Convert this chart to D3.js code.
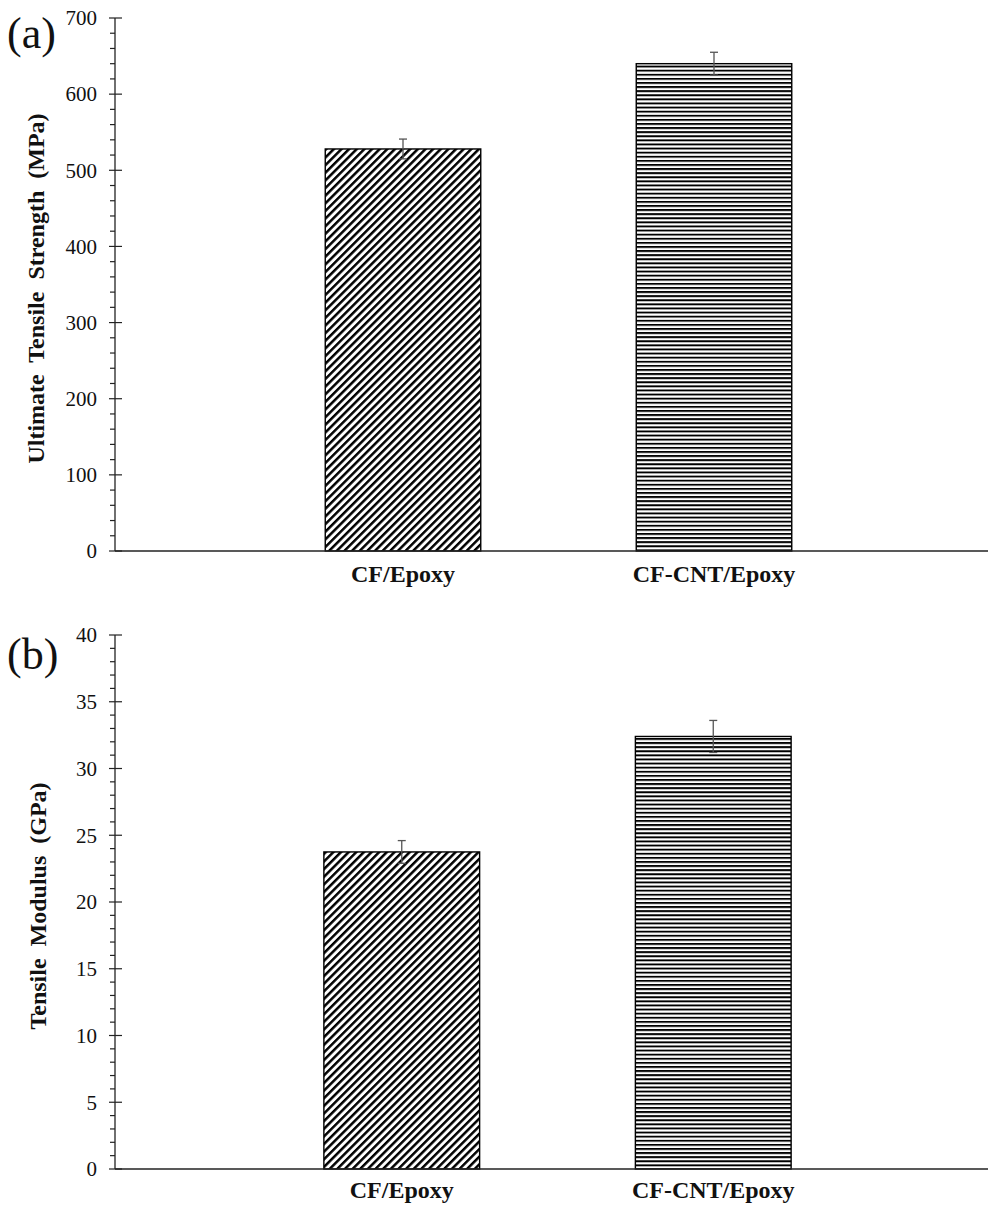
<!DOCTYPE html>
<html>
<head>
<meta charset="utf-8">
<script src="https://cdn.jsdelivr.net/npm/d3@7/dist/d3.min.js"></script>
<style>
  html, body { margin: 0; padding: 0; background: #fff; }
  svg { display: block; }
  text { font-family: "Liberation Serif", "Times New Roman", Times, serif; }
</style>
</head>
<body>
<svg id="chart" width="988" height="1206"></svg>
<script>
// ---- Data ----
const categories = ["CF/Epoxy", "CF-CNT/Epoxy"];
const strengthValues = [528, 640];       // MPa
const strengthErrors = [13, 15];
const modulusValues = [23.75, 32.4];     // GPa
const modulusErrors = [0.85, 1.2];
const strengthTicks = [0, 100, 200, 300, 400, 500, 600, 700];
const modulusTicks = [0, 5, 10, 15, 20, 25, 30, 35, 40];
const patterns = ["diag", "horiz"];

const svg = d3.select("#chart");
const defs = svg.append("defs");

// diagonal hatch "/"
const pd = defs.append("pattern")
  .attr("id", "diag")
  .attr("patternUnits", "userSpaceOnUse")
  .attr("width", 5.4).attr("height", 5.4)
  .attr("patternTransform", "rotate(45)");
pd.append("rect").attr("width", 5.4).attr("height", 5.4).attr("fill", "#fff");
pd.append("rect").attr("width", 2.5).attr("height", 5.4).attr("fill", "#000");

// horizontal hatch
const ph = defs.append("pattern")
  .attr("id", "horiz")
  .attr("patternUnits", "userSpaceOnUse")
  .attr("width", 8).attr("height", 4.1);
ph.append("rect").attr("width", 8).attr("height", 4.1).attr("fill", "#fff");
ph.append("rect").attr("width", 8).attr("height", 1.9).attr("fill", "#000");

function panel(cfg) {
  const g = svg.append("g");
  const y = d3.scaleLinear().domain(cfg.domain).range([cfg.bottom, cfg.top]);
  const x = d3.scaleBand().domain(categories).range(cfg.xRange)
    .paddingInner(0.5).paddingOuter(0.25);

  // bars
  g.selectAll("rect.bar").data(cfg.values).enter().append("rect")
    .attr("class", "bar")
    .attr("x", (d, i) => x(categories[i]))
    .attr("width", x.bandwidth())
    .attr("y", d => y(d))
    .attr("height", d => y(0) - y(d))
    .attr("fill", (d, i) => `url(#${patterns[i]})`)
    .attr("stroke", "#000")
    .attr("stroke-width", 1.4);

  // error bars
  const eb = g.selectAll("g.err").data(cfg.values).enter().append("g")
    .attr("stroke", "#555").attr("stroke-width", 1.3).attr("fill", "none");
  eb.append("line")
    .attr("x1", (d, i) => x(categories[i]) + x.bandwidth() / 2)
    .attr("x2", (d, i) => x(categories[i]) + x.bandwidth() / 2)
    .attr("y1", (d, i) => y(d + cfg.errors[i]))
    .attr("y2", (d, i) => y(d - cfg.errors[i]));
  [1, -1].forEach(s => {
    eb.append("line")
      .attr("x1", (d, i) => x(categories[i]) + x.bandwidth() / 2 - 4)
      .attr("x2", (d, i) => x(categories[i]) + x.bandwidth() / 2 + 4)
      .attr("y1", (d, i) => y(d + s * cfg.errors[i]))
      .attr("y2", (d, i) => y(d + s * cfg.errors[i]));
  });

  // y axis
  const ax = g.append("g").attr("transform", `translate(${cfg.axisX},0)`);
  const minor = [];
  for (let k = 0; k < cfg.ticks.length - 1; k++) {
    const a = cfg.ticks[k], b = cfg.ticks[k + 1];
    for (let m = 1; m < 5; m++) minor.push(a + (b - a) * m / 5);
  }
  ax.selectAll("line.minor").data(minor).enter().append("line")
    .attr("x1", -5).attr("x2", 0)
    .attr("y1", d => y(d)).attr("y2", d => y(d))
    .attr("stroke", "#222").attr("stroke-width", 1.2);
  ax.selectAll("line.major").data(cfg.ticks).enter().append("line")
    .attr("x1", -6).attr("x2", 7)
    .attr("y1", d => y(d)).attr("y2", d => y(d))
    .attr("stroke", "#222").attr("stroke-width", 1.2);
  ax.append("line")
    .attr("x1", 0).attr("x2", 0)
    .attr("y1", y(cfg.domain[1])).attr("y2", y(0))
    .attr("stroke", "#222").attr("stroke-width", 1.3);
  ax.selectAll("text.tick").data(cfg.ticks).enter().append("text")
    .attr("x", -18).attr("y", d => y(d))
    .attr("dy", "0.35em")
    .attr("text-anchor", "end")
    .attr("font-size", 21)
    .attr("fill", "#111")
    .text(d => d);

  // x axis line
  g.append("line")
    .attr("x1", cfg.axisX).attr("x2", 988)
    .attr("y1", y(0)).attr("y2", y(0))
    .attr("stroke", "#222").attr("stroke-width", 1.3);

  // category labels
  g.selectAll("text.cat").data(categories).enter().append("text")
    .attr("x", d => x(d) + x.bandwidth() / 2)
    .attr("y", y(0) + cfg.catOffset)
    .attr("text-anchor", "middle")
    .attr("font-size", 24)
    .attr("font-weight", "bold")
    .attr("fill", "#111")
    .text(d => d);

  // y title
  g.append("text")
    .attr("transform", `translate(${cfg.titleX},${(y(0) + y(cfg.domain[1])) / 2 + 4}) rotate(-90)`)
    .attr("text-anchor", "middle")
    .attr("font-size", 24)
    .attr("font-weight", "bold")
    .attr("word-spacing", 6)
    .attr("fill", "#111")
    .text(cfg.title);

  // panel label
  g.append("text")
    .attr("x", 7).attr("y", cfg.labelY)
    .attr("font-size", 44)
    .attr("fill", "#111")
    .text(cfg.label);
}

panel({
  domain: [0, 700], top: 18, bottom: 551, axisX: 115,
  xRange: [247.5, 869.5],
  values: strengthValues, errors: strengthErrors, ticks: strengthTicks,
  title: "Ultimate Tensile Strength (MPa)", titleX: 44, label: "(a)", labelY: 48,
  catOffset: 31
});

panel({
  domain: [0, 40], top: 635, bottom: 1169, axisX: 115,
  xRange: [246, 869],
  values: modulusValues, errors: modulusErrors, ticks: modulusTicks,
  title: "Tensile Modulus (GPa)", titleX: 46, label: "(b)", labelY: 669,
  catOffset: 29
});
</script>
</body>
</html>
